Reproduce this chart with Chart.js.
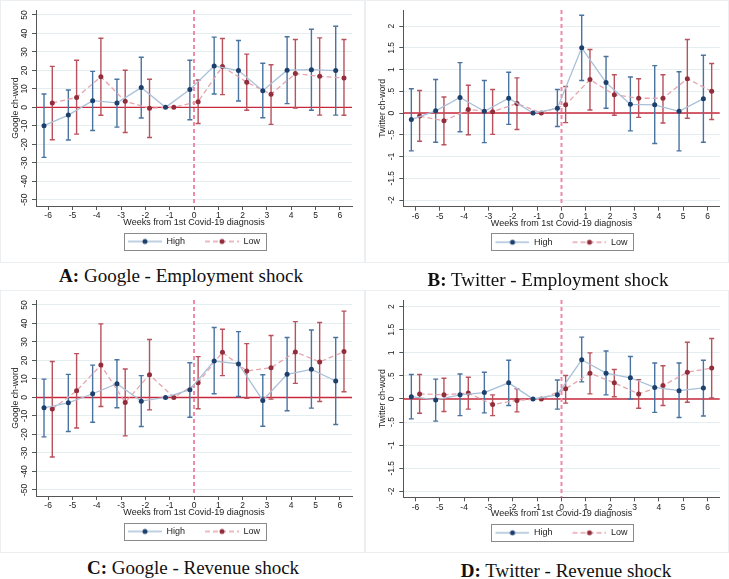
<!DOCTYPE html>
<html>
<head>
<meta charset="utf-8">
<script src="https://cdn.jsdelivr.net/npm/chart.js@4.4.1/dist/chart.umd.min.js"></script>
<style>
  body { margin: 0; background: #fff; width: 729px; height: 579px; position: relative; overflow: hidden; }
  canvas { position: absolute; }
  .cap { position: absolute; font-family: "Liberation Serif", serif; font-size: 19px; color: #111; white-space: nowrap; transform: translate(-50%, -50%); }
</style>
</head>
<body>
<canvas id="cA" width="365" height="263" style="left:0;top:0"></canvas>
<canvas id="cB" width="364" height="263" style="left:365px;top:0"></canvas>
<canvas id="cC" width="365" height="263" style="left:0;top:290px"></canvas>
<canvas id="cD" width="364" height="263" style="left:365px;top:290px"></canvas>
<div class="cap" style="left:181px;top:276px"><b>A:</b> Google - Employment shock</div>
<div class="cap" style="left:548px;top:280px"><b>B:</b> Twitter - Employment shock</div>
<div class="cap" style="left:193px;top:568px"><b>C:</b> Google - Revenue shock</div>
<div class="cap" style="left:566px;top:571px"><b>D:</b> Twitter - Revenue shock</div>
<script>
var weeks = [-6, -5, -4, -3, -2, -1, 0, 1, 2, 3, 4, 5, 6];
var googleTicks = [-50, -40, -30, -20, -10, 0, 10, 20, 30, 40, 50];
var twitterTicks = [-2, -1.5, -1, -0.5, 0, 0.5, 1, 1.5, 2];
var xTitle = "Weeks from 1st Covid-19 diagnosis";

// A: Google - Employment shock
var aHigh   = [-9.9, -4.2, 3.6, 2.4, 10.7, 0, 9.6, 22.4, 19.9, 9.0, 20.1, 20.4, 19.9];
var aHighLo = [-27.1, -17.7, -12.5, -10.7, -5.8, null, -6.7, 7.2, 3.4, -5.6, 2.0, -1.6, -4.2];
var aHighHi = [7.2, 9.4, 19.5, 15.2, 27.1, null, 25.5, 38.0, 36.2, 23.9, 38.2, 42.3, 43.9];
var aLow    = [2.4, 5.4, 16.6, 3.3, -0.5, 0, 3.1, 22.1, 13.6, 7.1, 18.3, 16.8, 15.9];
var aLowLo  = [-17.5, -14.5, -4.3, -13.6, -16.3, null, -8.7, 6.9, -1.6, -9.2, -0.4, -4.2, -4.3];
var aLowHi  = [22.2, 25.5, 37.4, 20.1, 15.2, null, 14.8, 37.3, 28.8, 23.1, 36.7, 37.6, 36.7];

// B: Twitter - Employment shock
var bHigh   = [-0.15, 0.05, 0.36, 0.04, 0.34, 0, 0.11, 1.50, 0.70, 0.20, 0.19, 0.04, 0.33];
var bHighLo = [-0.87, -0.67, -0.43, -0.68, -0.26, null, -0.31, 0.75, 0.11, -0.41, -0.70, -0.87, -0.67];
var bHighHi = [0.56, 0.77, 1.16, 0.75, 0.94, null, 0.54, 2.25, 1.30, 0.83, 1.09, 0.95, 1.33];
var bLow    = [-0.07, -0.18, 0.08, 0.03, 0.22, 0, 0.19, 0.77, 0.42, 0.34, 0.34, 0.79, 0.50];
var bLowLo  = [-0.65, -0.73, -0.50, -0.49, -0.38, null, -0.22, 0.07, -0.05, -0.10, -0.23, -0.12, -0.15];
var bLowHi  = [0.52, 0.37, 0.64, 0.54, 0.81, null, 0.61, 1.46, 0.88, 0.79, 0.88, 1.69, 1.14];

// C: Google - Revenue shock
var cHigh   = [-5.6, -2.9, 2.0, 7.4, -2.0, 0, 4.2, 19.7, 18.1, -1.6, 12.5, 15.2, 8.9];
var cHighLo = [-21.3, -18.4, -13.4, -5.6, -15.7, null, -10.7, 2.0, 0.5, -15.6, -7.2, -5.8, -14.6];
var cHighHi = [9.9, 12.5, 17.5, 20.4, 11.8, null, 18.8, 37.8, 35.6, 12.3, 32.4, 36.5, 32.4];
var cLow    = [-6.3, 3.6, 17.5, -2.7, 12.3, 0, 8.0, 24.4, 14.3, 16.1, 24.6, 19.2, 24.8];
var cLowLo  = [-32.2, -16.5, -4.9, -20.8, -6.7, null, -6.1, 11.8, -0.4, -0.9, 7.6, -2.2, 3.1];
var cLowHi  = [19.4, 23.7, 39.8, 15.4, 31.3, null, 22.1, 36.9, 29.1, 33.5, 41.0, 40.5, 46.7];

// D: Twitter - Revenue shock
var dHigh   = [0.05, -0.02, 0.09, 0.14, 0.35, 0, 0.09, 0.85, 0.56, 0.46, 0.25, 0.18, 0.24];
var dHighLo = [-0.43, -0.48, -0.36, -0.30, -0.14, null, -0.22, 0.37, 0.09, 0.00, -0.29, -0.40, -0.37];
var dHighHi = [0.53, 0.43, 0.54, 0.58, 0.84, null, 0.41, 1.34, 1.04, 0.92, 0.78, 0.78, 0.84];
var dLow    = [0.11, 0.09, 0.13, -0.12, -0.03, 0, 0.22, 0.56, 0.35, 0.11, 0.29, 0.58, 0.67];
var dLowLo  = [-0.31, -0.27, -0.22, -0.36, -0.28, null, -0.09, 0.11, 0.05, -0.20, -0.14, -0.07, 0.02];
var dLowHi  = [0.53, 0.45, 0.47, 0.09, 0.22, null, 0.51, 1.00, 0.64, 0.42, 0.72, 1.23, 1.31];

Chart.defaults.font.family = '"Liberation Sans", Arial, sans-serif';
Chart.defaults.color = '#222';

var HIGH_LINE = '#a9c0d9', HIGH_DOT = '#1d3f6b', HIGH_BAR = '#4a73a0';
var LOW_LINE = '#e6a4ab', LOW_DOT = '#922e3b', LOW_BAR = '#b8525d';
var DOT_R = 2.5;

// little line+dot sample used as legend symbol (16px blank lead for spacing)
function sample(line, dot, dash) {
  var c = document.createElement('canvas');
  c.width = 50; c.height = 10;
  var g = c.getContext('2d');
  g.strokeStyle = line; g.lineWidth = 1.3;
  g.setLineDash(dash);
  g.beginPath(); g.moveTo(16, 5); g.lineTo(50, 5); g.stroke();
  g.fillStyle = dot;
  g.beginPath(); g.arc(33, 5, DOT_R, 0, Math.PI * 2); g.fill();
  return c;
}

var stataLook = {
  id: 'stataLook',
  beforeDraw: function (chart) {
    var ctx = chart.ctx;
    ctx.save();
    ctx.fillStyle = '#fff';
    ctx.fillRect(0, 0, chart.width, chart.height);
    ctx.strokeStyle = '#eceff1';
    ctx.strokeRect(0.5, 0.5, chart.width - 1, chart.height - 1);
    ctx.restore();
  },
  afterLayout: function (chart) {
    chart.legend.left -= 8;
    chart.legend.right -= 8;
  },
  beforeDatasetsDraw: function (chart) {
    var ctx = chart.ctx, xs = chart.scales.x, ys = chart.scales.y, a = chart.chartArea;
    ctx.save();
    // zero line
    var y0 = ys.getPixelForValue(0);
    ctx.strokeStyle = '#c8283c'; ctx.lineWidth = 1.4;
    ctx.beginPath(); ctx.moveTo(a.left, y0); ctx.lineTo(a.right, y0); ctx.stroke();
    // event line
    var x0 = xs.getPixelForValue(0);
    ctx.strokeStyle = '#f08aa8'; ctx.lineWidth = 2; ctx.setLineDash([4, 3]);
    ctx.beginPath(); ctx.moveTo(x0, a.top); ctx.lineTo(x0, a.bottom); ctx.stroke();
    ctx.setLineDash([]);
    // confidence intervals
    chart.data.datasets.forEach(function (ds) {
      ctx.strokeStyle = ds.barColor; ctx.lineWidth = 1.4;
      ds.data.forEach(function (p, i) {
        if (ds.lo[i] == null) return;
        var px = xs.getPixelForValue(p.x);
        var p1 = ys.getPixelForValue(ds.lo[i]), p2 = ys.getPixelForValue(ds.hi[i]);
        ctx.beginPath();
        ctx.moveTo(px, p1); ctx.lineTo(px, p2);
        ctx.moveTo(px - 2.5, p1); ctx.lineTo(px + 2.5, p1);
        ctx.moveTo(px - 2.5, p2); ctx.lineTo(px + 2.5, p2);
        ctx.stroke();
      });
    });
    ctx.restore();
  },
  afterDraw: function (chart) {
    var hb = chart.legend.legendHitBoxes;
    if (!hb || !hb.length) return;
    var last = hb[hb.length - 1];
    var l = hb[0].left + 12, r = last.left + last.width + 6;
    var cy = hb[0].top + hb[0].height / 2;
    var ctx = chart.ctx;
    ctx.save();
    ctx.strokeStyle = '#8a8a8a'; ctx.lineWidth = 1;
    ctx.strokeRect(Math.round(l) + 0.5, Math.round(cy - 9) + 0.5, Math.round(r - l), 17);
    ctx.restore();
  }
};

function points(vals, shift) {
  return weeks.map(function (w, i) { return { x: w + shift, y: vals[i] }; });
}

function panel(id, o) {
  return new Chart(document.getElementById(id), {
    type: 'line',
    data: {
      datasets: [
        { label: 'High', data: points(o.high, -0.17), lo: o.highLo, hi: o.highHi, barColor: HIGH_BAR,
          borderColor: HIGH_LINE, borderWidth: 1.3, pointRadius: DOT_R, pointBorderWidth: 0,
          pointBackgroundColor: HIGH_DOT, tension: 0, sym: sample(HIGH_LINE, HIGH_DOT, []) },
        { label: 'Low', data: points(o.low, 0.17), lo: o.lowLo, hi: o.lowHi, barColor: LOW_BAR,
          borderColor: LOW_LINE, borderWidth: 1.3, borderDash: [5, 3], pointRadius: DOT_R, pointBorderWidth: 0,
          pointBackgroundColor: LOW_DOT, tension: 0, sym: sample(LOW_LINE, LOW_DOT, [5, 3]) }
      ]
    },
    options: {
      responsive: false,
      animation: false,
      events: [],
      layout: { padding: { top: 10, right: o.padRight, left: 0, bottom: o.padBottom } },
      plugins: {
        tooltip: { enabled: false },
        legend: {
          position: 'bottom',
          fullSize: false,
          labels: {
            usePointStyle: true,
            pointStyleWidth: 50,
            padding: 4,
            font: { size: 9 },
            generateLabels: function (chart) {
              return chart.data.datasets.map(function (ds, i) {
                return { text: ds.label, pointStyle: ds.sym, datasetIndex: i, lineWidth: 0,
                  fillStyle: 'transparent', strokeStyle: 'transparent', fontColor: '#222' };
              });
            }
          }
        }
      },
      scales: {
        x: {
          type: 'linear', min: -6.5, max: 6.5,
          afterBuildTicks: function (s) { s.ticks = weeks.map(function (w) { return { value: w }; }); },
          afterFit: function (s) { s.height = 27; },
          ticks: { font: { size: 8.5 }, padding: 1, autoSkip: false, maxRotation: 0,
            callback: function (v) { return String(v); } },
          grid: { drawOnChartArea: false, tickLength: 4, tickColor: '#555' },
          border: { color: '#555' },
          title: { display: true, text: xTitle, font: { size: 9 }, padding: { top: 0, bottom: 5 } }
        },
        y: {
          min: o.min, max: o.max,
          afterBuildTicks: function (s) { s.ticks = o.ticks.map(function (v) { return { value: v }; }); },
          afterFit: function (s) { s.width = o.yWidth; },
          ticks: { font: { size: 8.5 }, minRotation: 90, maxRotation: 90, crossAlign: 'center',
            padding: o.tickPad, autoSkip: false,
            callback: function (v) { return String(v).replace('0.', '.'); } },
          grid: { color: '#e4edf0', tickLength: 4, tickColor: '#555' },
          border: { color: '#555' },
          title: { display: true, text: o.yTitle, font: { size: 8.7 }, padding: { top: o.titlePad, bottom: 0 } }
        }
      }
    },
    plugins: [stataLook]
  });
}

panel('cA', { high: aHigh, highLo: aHighLo, highHi: aHighHi, low: aLow, lowLo: aLowLo, lowHi: aLowHi,
  ticks: googleTicks, min: -53.4, max: 52.7, yTitle: 'Google ch-word', yWidth: 36, tickPad: 1, titlePad: 10,
  padRight: 13, padBottom: 7 });
panel('cB', { high: bHigh, highLo: bHighLo, highHi: bHighHi, low: bLow, lowLo: bLowLo, lowHi: bLowHi,
  ticks: twitterTicks, min: -2.154, max: 2.37, yTitle: 'Twitter ch-word', yWidth: 38.3, tickPad: 0, titlePad: 12,
  padRight: 9.3, padBottom: 6.3 });
panel('cC', { high: cHigh, highLo: cHighLo, highHi: cHighHi, low: cLow, lowLo: cLowLo, lowHi: cLowHi,
  ticks: googleTicks, min: -53.3, max: 52.7, yTitle: 'Google ch-word', yWidth: 36, tickPad: 1, titlePad: 10,
  padRight: 13, padBottom: 7 });
panel('cD', { high: dHigh, highLo: dHighLo, highHi: dHighHi, low: dLow, lowLo: dLowLo, lowHi: dLowHi,
  ticks: twitterTicks, min: -2.13, max: 2.145, yTitle: 'Twitter ch-word', yWidth: 38.3, tickPad: 0, titlePad: 12,
  padRight: 9.3, padBottom: 5.7 });
</script>
</body>
</html>
